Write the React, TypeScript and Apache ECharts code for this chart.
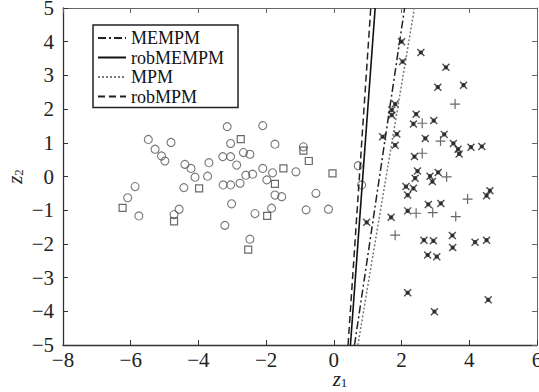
import React, { useEffect, useRef } from "react";
import * as echarts from "echarts";

// Class 1 (left cloud): circles and squares
const class1Circles: number[][] = [
  [-5.48, 1.1], [-4.81, 1.01], [-5.28, 0.81], [-5.09, 0.61], [-4.99, 0.46], [-4.4, 0.36],
  [-4.22, 0.24], [-4.1, -0.02], [-3.73, 0.01], [-3.69, 0.41], [-5.87, -0.3], [-4.43, -0.33],
  [-6.09, -0.63], [-5.76, -1.17], [-4.72, -1.13], [-4.57, -0.97], [-3.22, -1.45], [-3.02, -0.81],
  [-2.33, -1.1], [-2.48, -1.86], [-3.15, 1.48], [-2.1, 1.51], [-3.05, 0.98], [-0.9, 0.88],
  [-3.28, 0.59], [-3.05, 0.59], [-2.67, 0.71], [-2.48, 0.66], [-2.87, 0.34], [-2.6, 0.04],
  [-2.4, 0.07], [-2.1, 0.24], [-1.81, 0.11], [-1.12, 0.14], [-3.27, -0.25], [-3.05, -0.25],
  [-2.77, -0.2], [-1.98, -0.1], [-1.74, -0.55], [-1.54, -0.6], [-0.53, -0.5], [-1.84, -0.94],
  [-0.82, -0.99], [-0.16, -0.97], [0.72, 0.32], [0.82, -0.25], [-1.74, 0.96],
];
const class1Squares: number[][] = [
  [-3.98, -0.35], [-6.24, -0.93], [-4.72, -1.33], [-2.53, -2.17], [-1.97, -1.17], [-2.75, 1.11],
  [-0.9, 0.77], [-0.74, 0.46], [-1.49, 0.24], [-0.04, 0.09], [-1.74, -0.22],
];
// Class 2 (right cloud): crosses and pluses
const class2Crosses: number[][] = [
  [2.0, 4.0], [2.57, 3.68], [2.03, 3.41], [3.31, 3.24], [3.07, 2.65], [3.83, 2.71], [1.81, 2.15],
  [1.71, 1.97], [1.71, 1.82], [2.43, 1.85], [2.35, 1.56], [2.95, 1.66], [1.44, 1.18], [1.86, 1.26],
  [1.81, 0.93], [2.7, 1.13], [3.26, 1.25], [3.53, 0.98], [3.67, 0.81], [3.7, 0.67], [4.05, 0.87],
  [4.37, 0.89], [2.38, 0.59], [2.47, 0.16], [2.4, -0.05], [2.84, 0.01], [2.91, -0.15], [3.08, 0.12],
  [2.13, -0.3], [2.35, -0.35], [2.18, -0.55], [2.79, -0.83], [3.16, -0.8], [1.69, -1.21],
  [2.18, -1.02], [0.97, -1.36], [4.61, -0.42], [4.51, -0.57], [2.66, -1.89], [2.94, -1.91],
  [3.5, -1.75], [3.51, -2.11], [4.17, -1.95], [4.51, -1.89], [2.77, -2.33], [3.04, -2.38],
  [2.18, -3.45], [4.56, -3.66], [2.97, -4.01],
];
const class2Plus: number[][] = [
  [3.58, 2.15], [2.61, 1.58], [3.15, 1.05], [2.61, 0.69], [3.33, -0.01], [3.95, -0.67],
  [2.43, -1.09], [2.92, -1.07], [3.6, -1.19], [1.81, -1.74],
];

// Separating lines (endpoints at y = -5 and y = 5)
const lineMEMPM: number[][] = [[0.61, -5], [2.09, 5]];
const lineRobMEMPM: number[][] = [[0.49, -5], [1.22, 5]];
const lineMPM: number[][] = [[0.71, -5], [2.38, 5]];
const lineRobMPM: number[][] = [[0.42, -5], [1.09, 5]];

const legendNames = ["MEMPM", "robMEMPM", "MPM", "robMPM"];

const SERIF = "'Liberation Serif', 'Times New Roman', serif";
const fmt = (v: number) => String(v).replace("-", "\u2212");

export default function App() {
  const ref = useRef<HTMLDivElement>(null);
  useEffect(() => {
    if (!ref.current) return;
    const chart = echarts.init(ref.current, undefined, { renderer: "svg" });
    const axisLineStyle = { color: "#333", width: 1.3 };
    const nameRich = {
      i: { fontFamily: SERIF, fontStyle: "italic", fontSize: 21, color: "#222", lineHeight: 20, verticalAlign: "middle" },
      s: { fontFamily: SERIF, fontSize: 13, color: "#222", lineHeight: 12, verticalAlign: "bottom" },
    };
    chart.setOption({
      animation: false,
      backgroundColor: "#fff",
      grid: { left: 63, right: 2, top: 8, bottom: 47, outerBoundsMode: "none", containLabel: false },
      legend: {
        data: legendNames,
        orient: "vertical",
        left: 93,
        top: 25,
        backgroundColor: "#fff",
        borderColor: "#222",
        borderWidth: 1.5,
        borderRadius: 0,
        padding: [4, 14, 2, 4],
        itemWidth: 28,
        itemHeight: 12,
        itemGap: 1.5,
        itemStyle: { opacity: 0 },
        textStyle: { fontFamily: SERIF, fontSize: 18, color: "#111", lineHeight: 18 },
      },
      xAxis: [
        {
          type: "value", min: -8, max: 6, interval: 2, position: "bottom",
          axisLine: { show: true, onZero: false, lineStyle: axisLineStyle },
          axisTick: { show: true, inside: true, length: 5, lineStyle: { color: "#333" } },
          axisLabel: { formatter: fmt, fontFamily: SERIF, fontSize: 21, color: "#222", margin: 4 },
          splitLine: { show: false },
          name: "{i|z}{s|1}", nameLocation: "middle", nameGap: 24, nameMoveOverlap: false,
          nameTextStyle: { rich: nameRich, padding: [0, 0, 0, 80] },
        },
        {
          type: "value", min: -8, max: 6, interval: 2, position: "top",
          axisLine: { show: true, onZero: false, lineStyle: { color: "#666", width: 1 } },
          axisTick: { show: true, inside: true, length: 5, lineStyle: { color: "#666" } },
          axisLabel: { show: false }, splitLine: { show: false },
        },
      ],
      yAxis: [
        {
          type: "value", min: -5, max: 5, interval: 1, position: "left",
          axisLine: { show: true, onZero: false, lineStyle: axisLineStyle },
          axisTick: { show: true, inside: true, length: 5, lineStyle: { color: "#333" } },
          axisLabel: { formatter: fmt, fontFamily: SERIF, fontSize: 21, color: "#222", margin: 9 },
          splitLine: { show: false },
          name: "{i|z}{s|2}", nameLocation: "middle", nameGap: 38, nameRotate: 90, nameMoveOverlap: false,
          nameTextStyle: { rich: nameRich },
        },
        {
          type: "value", min: -5, max: 5, interval: 1, position: "right",
          axisLine: { show: true, onZero: false, lineStyle: { color: "#666", width: 1 } },
          axisTick: { show: true, inside: true, length: 5, lineStyle: { color: "#666" } },
          axisLabel: { show: false }, splitLine: { show: false },
        },
      ],
      series: [
        {
          type: "scatter", name: "class1-o", data: class1Circles, symbol: "circle", symbolSize: 8,
          itemStyle: { color: "rgba(0,0,0,0)", borderColor: "#555", borderWidth: 1.1 },
        },
        {
          type: "scatter", name: "class1-s", data: class1Squares, symbol: "rect", symbolSize: 7,
          itemStyle: { color: "rgba(0,0,0,0)", borderColor: "#444", borderWidth: 1.2 },
        },
        {
          type: "scatter", name: "class2-x", data: class2Crosses,
          symbol: "path://M0,0L10,10M10,0L0,10M3,3L7,3L7,7L3,7Z", symbolSize: 7,
          itemStyle: { color: "#222", borderColor: "#222", borderWidth: 1.4 },
        },
        {
          type: "scatter", name: "class2-p", data: class2Plus,
          symbol: "path://M5,0L5,10M0,5L10,5", symbolSize: 10,
          itemStyle: { color: "#444", borderColor: "#444", borderWidth: 1.2 },
        },
        {
          type: "line", name: "MEMPM", data: lineMEMPM, symbol: "none",
          lineStyle: { color: "#222", width: 1.5, type: [8, 3, 2, 3] }, itemStyle: { color: "#222" },
        },
        {
          type: "line", name: "robMEMPM", data: lineRobMEMPM, symbol: "none",
          lineStyle: { color: "#111", width: 1.6, type: "solid" }, itemStyle: { color: "#111" },
        },
        {
          type: "line", name: "MPM", data: lineMPM, symbol: "none",
          lineStyle: { color: "#777", width: 1.5, type: [2, 2] }, itemStyle: { color: "#777" },
        },
        {
          type: "line", name: "robMPM", data: lineRobMPM, symbol: "none",
          lineStyle: { color: "#222", width: 1.5, type: [7, 4] }, itemStyle: { color: "#222" },
        },
      ],
    });
    return () => chart.dispose();
  }, []);
  return (
    <div
      ref={ref}
      style={{ position: "fixed", left: 0, top: 0, width: 539, height: 392, background: "#fff" }}
    />
  );
}
